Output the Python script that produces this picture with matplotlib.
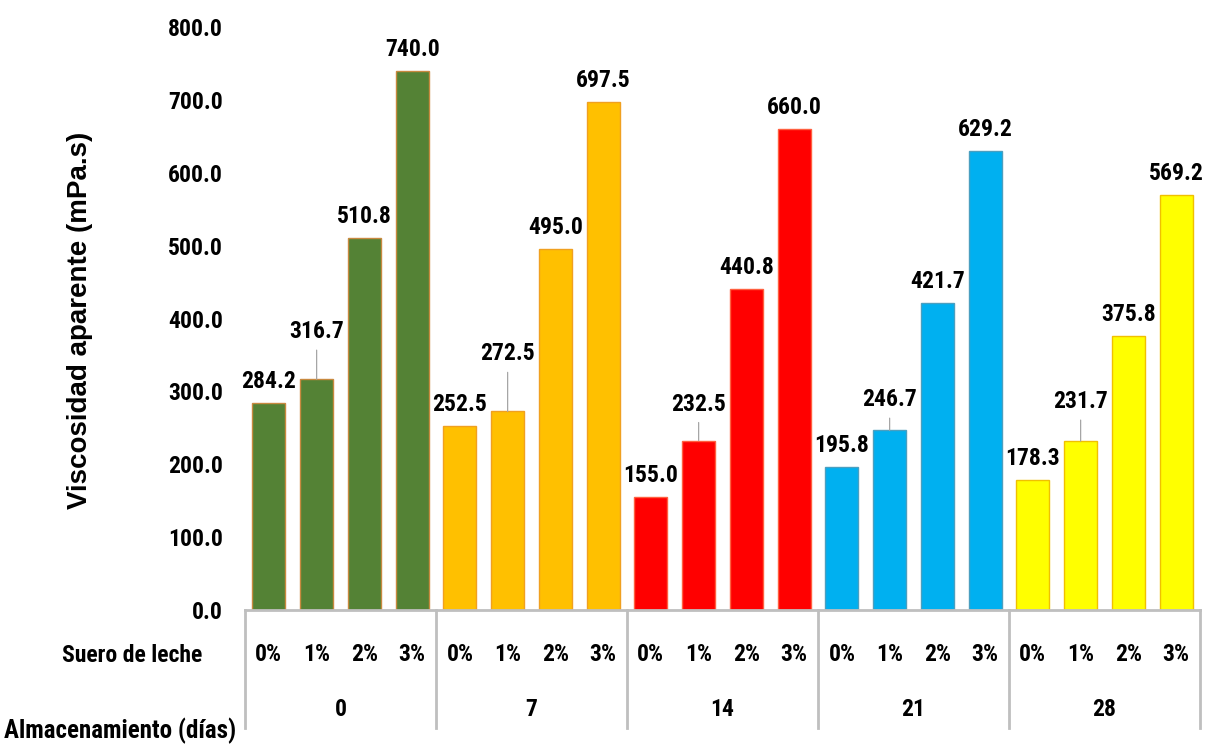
import matplotlib
matplotlib.use("Agg")
import matplotlib.pyplot as plt
import numpy as np

# datos
dias = ['0', '7', '14', '21', '28']
suero = ['0%', '1%', '2%', '3%']
viscosidad = [
    [284.2, 316.7, 510.8, 740.0],
    [252.5, 272.5, 495.0, 697.5],
    [155.0, 232.5, 440.8, 660.0],
    [195.8, 246.7, 421.7, 629.2],
    [178.3, 231.7, 375.8, 569.2],
]
colores = ['#548235', '#FFC000', '#FF0000', '#00B0F0', '#FFFF00']
bordes = ['#C8893F', '#F0A020', '#FF6040', '#4A9FC0', '#F0C000']
# separacion (px) entre etiqueta y barra; las de 1% llevan linea guia
sep_1 = [36, 46, 25, 19, 28]
sep = 10

narrow = ['Roboto Condensed', 'DejaVu Sans']
wide = ['Liberation Sans', 'DejaVu Sans']

fig = plt.figure(figsize=(12.14, 7.44), dpi=100)
ax = fig.add_axes([245 / 1214, 1 - 610 / 744, 955 / 1214, 583 / 744])

n = len(suero)
for g, vals in enumerate(viscosidad):
    x = np.arange(n) + g * n
    ax.bar(x, vals, width=0.69, color=colores[g], edgecolor=bordes[g], linewidth=1.0)
    for i, v in enumerate(vals):
        if i == 1:
            ax.annotate(f'{v:.1f}', xy=(x[i], v), xytext=(0, sep_1[g] * 0.72),
                        textcoords='offset points', ha='center', va='bottom',
                        fontsize=17, fontweight='bold', family=narrow,
                        arrowprops=dict(arrowstyle='-', color='#A6A6A6', lw=0.9,
                                        shrinkA=3, shrinkB=0))
        else:
            ax.annotate(f'{v:.1f}', xy=(x[i], v), xytext=(0, sep * 0.72),
                        textcoords='offset points', ha='center', va='bottom',
                        fontsize=17, fontweight='bold', family=narrow)

ax.set_xlim(-0.5, len(dias) * n - 0.5)
ax.set_ylim(0, 800)
ax.set_yticks(np.arange(0, 801, 100))
ax.set_yticklabels([f'{t:.1f}' for t in np.arange(0, 801, 100)],
                   fontsize=17, fontweight='bold', family=narrow)
ax.tick_params(axis='y', length=0, pad=16)
ax.set_xticks([])
for s in ['top', 'right', 'left']:
    ax.spines[s].set_visible(False)
ax.spines['bottom'].set_color('#BFBFBF')
ax.spines['bottom'].set_linewidth(2)

# eje de categorias en dos niveles
tr = ax.get_xaxis_transform()
for g in range(len(dias) + 1):
    xb = g * n - 0.5
    ax.plot([xb, xb], [0, -0.2024], transform=tr, color='#BFBFBF', lw=2, clip_on=False)
for g, d in enumerate(dias):
    for i, s in enumerate(suero):
        ax.text(g * n + i, -0.077, s, transform=tr, ha='center', va='center',
                fontsize=17, fontweight='bold', family=narrow)
    ax.text(g * n + (n - 1) / 2, -0.17, d, transform=tr, ha='center', va='center',
            fontsize=17, fontweight='bold', family=narrow)

fig.text(132 / 1214, 1 - 655 / 744, 'Suero de leche', ha='center', va='center',
         fontsize=17, fontweight='bold', family=narrow)
fig.text(120 / 1214, 1 - 731 / 744, 'Almacenamiento (días)', ha='center', va='center',
         fontsize=18, fontweight='bold', family=narrow)
fig.text(80 / 1214, 1 - 320 / 744, 'Viscosidad aparente (mPa.s)', ha='center', va='center',
         rotation=90, fontsize=20, fontweight='bold', family=wide)

fig.savefig('out.png', dpi=100)
